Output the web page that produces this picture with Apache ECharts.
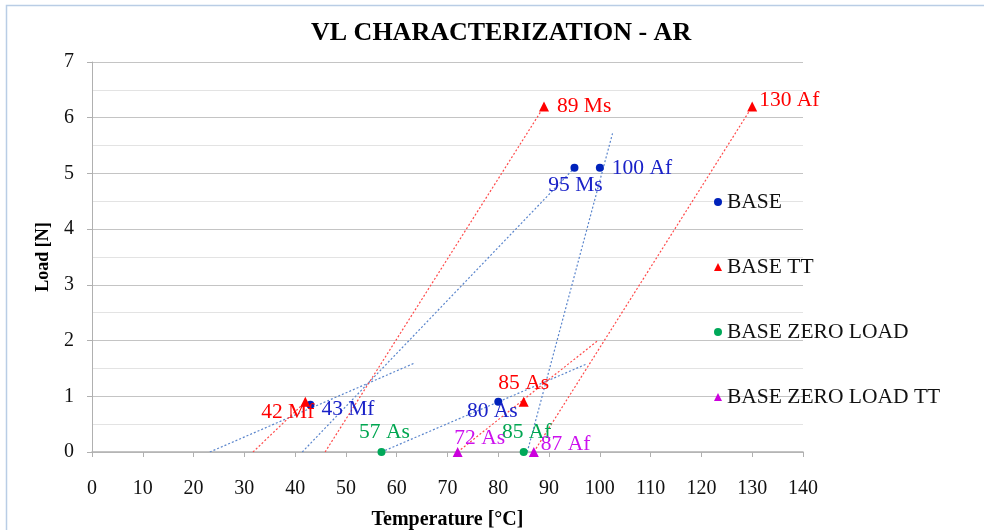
<!DOCTYPE html>
<html>
<head>
<meta charset="utf-8">
<script src="https://cdn.jsdelivr.net/npm/echarts@6/dist/echarts.min.js"></script>
<style>html,body{margin:0;padding:0;background:#fff;}#c{width:984px;height:530px;}</style>
</head>
<body>
<div id="c"></div>
<script>
// ---- data ----
const titleText = 'VL CHARACTERIZATION - AR';
const xName = 'Temperature [°C]';
const yName = 'Load [N]';
const seriesNames = ['BASE', 'BASE TT', 'BASE ZERO LOAD', 'BASE ZERO LOAD TT'];

const baseTemp = [43, 80, 95, 100];
const baseLoad = [0.85, 0.9, 5.1, 5.1];
const baseLabels = ['43 Mf', '80 As', '95 Ms', '100 Af'];

const ttTemp = [42, 85, 89, 130];
const ttLoad = [0.9, 0.9, 6.2, 6.2];
const ttLabels = ['42 Mf', '85 As', '89 Ms', '130 Af'];

const zlTemp = [57, 85];
const zlLoad = [0, 0];
const zlLabels = ['57 As', '85 Af'];

const zlttTemp = [72, 87];
const zlttLoad = [0, 0];
const zlttLabels = ['72 As', '87 Af'];

// dotted trend segments [[x0,y0],[x1,y1]]
const baseTrends = [
  [[23.2, 0], [63.6, 1.6]],
  [[41.4, 0], [95, 5.1]],
  [[57, 0], [97.4, 1.58]],
  [[85.7, 0], [102.5, 5.72]]
];
const ttTrends = [
  [[31.7, 0], [42, 0.9]],
  [[45.9, 0], [89, 6.2]],
  [[72, 0], [99.6, 2.0]],
  [[87, 0], [130, 6.2]]
];

// ---- styling (label placement per label) ----
const FONT = '"Liberation Serif", "Times New Roman", serif';
const LBL = 21.5;
const labelPlace = {
  '43 Mf': {position: 'right', distance: 7, offset: [0, 5]},
  '80 As': {position: 'inside', offset: [-6, 10]},
  '95 Ms': {position: 'bottom', distance: 3, offset: [1, 0]},
  '100 Af': {position: 'right', distance: 8, offset: [0, 1]},
  '42 Mf': {position: 'left', distance: 0, offset: [14, 11]},
  '85 As': {position: 'top', distance: 2, offset: [0, 0]},
  '89 Ms': {position: 'right', distance: 8, offset: [0, 0]},
  '130 Af': {position: 'right', distance: 2, offset: [0, -6]},
  '57 As': {position: 'top', distance: 5, offset: [3, 0]},
  '85 Af': {position: 'top', distance: 5, offset: [3, 0]},
  '72 As': {position: 'top', distance: 0, offset: [22, 2]},
  '87 Af': {position: 'right', distance: 2, offset: [0, -8]}
};

function pts(xs, ys, labels, color) {
  return xs.map((x, i) => ({
    value: [x, ys[i]],
    label: Object.assign({show: true, formatter: labels[i], color: color, opacity: 1,
      fontFamily: FONT, fontSize: LBL}, labelPlace[labels[i]])
  }));
}

const series = [];
function trendSeries(list, color) {
  list.forEach(seg => {
    series.push({
      type: 'line', data: seg, symbol: 'none', silent: true, z: 1,
      lineStyle: {type: [2, 2], width: 1.2, color: color}
    });
  });
}
trendSeries(baseTrends, '#5a85cc');
trendSeries(ttTrends, '#ff4a4a');

series.push({name: seriesNames[0], type: 'scatter', symbol: 'circle', symbolSize: 8, z: 3,
  itemStyle: {color: '#0022bb', opacity: 1}, data: pts(baseTemp, baseLoad, baseLabels, '#1a22c8')});
series.push({name: seriesNames[1], type: 'scatter', symbol: 'triangle', symbolSize: 10, z: 3,
  itemStyle: {color: '#ff0000', opacity: 1}, data: pts(ttTemp, ttLoad, ttLabels, '#ff0000')});
series.push({name: seriesNames[2], type: 'scatter', symbol: 'circle', symbolSize: 8, z: 3,
  itemStyle: {color: '#00a859', opacity: 1}, data: pts(zlTemp, zlLoad, zlLabels, '#00a651')});
series.push({name: seriesNames[3], type: 'scatter', symbol: 'triangle', symbolSize: 10, z: 3,
  itemStyle: {color: '#cc00dd', opacity: 1}, data: pts(zlttTemp, zlttLoad, zlttLabels, '#cc11ee')});

const chart = echarts.init(document.getElementById('c'), null, {renderer: 'canvas'});
chart.setOption({
  animation: false,
  backgroundColor: '#fff',
  title: {
    text: titleText, left: 306, top: 15,
    textStyle: {fontFamily: FONT, fontSize: 26, fontWeight: 'bold', color: '#000'}
  },
  graphic: [{
    type: 'rect', z: -10, silent: true,
    shape: {x: 6.5, y: 5.5, width: 1000, height: 600},
    style: {fill: 'none', stroke: '#b9cde5', lineWidth: 1.5}
  }],
  legend: {
    data: seriesNames, orient: 'vertical', left: 709, top: 186,
    itemWidth: 8, itemHeight: 8, itemGap: 43,
    textStyle: {fontFamily: FONT, fontSize: LBL, color: '#111', lineHeight: 21}
  },
  grid: {left: 92, right: 181, top: 62, bottom: 78, containLabel: false, outerBoundsMode: 'none'},
  xAxis: {
    type: 'value', min: 0, max: 140, interval: 10,
    name: xName, nameLocation: 'middle', nameGap: 58,
    nameTextStyle: {fontFamily: FONT, fontSize: 20, fontWeight: 'bold', color: '#000'},
    axisLine: {show: true, lineStyle: {color: '#b0b0b0', width: 1.5}},
    axisTick: {show: true, length: 5, lineStyle: {color: '#b0b0b0'}},
    axisLabel: {fontFamily: FONT, fontSize: 20, color: '#111', margin: 27},
    splitLine: {show: false}
  },
  yAxis: {
    type: 'value', min: 0, max: 7, interval: 1,
    name: yName, nameLocation: 'middle', nameGap: 40,
    nameTextStyle: {fontFamily: FONT, fontSize: 18, fontWeight: 'bold', color: '#000'},
    axisLine: {show: true, lineStyle: {color: '#b0b0b0', width: 1}},
    axisTick: {show: true, length: 5, lineStyle: {color: '#b0b0b0'}},
    axisLabel: {fontFamily: FONT, fontSize: 20, color: '#111', margin: 18},
    splitLine: {show: true, lineStyle: {color: '#c4c4c4', width: 1.2}},
    minorTick: {show: false, splitNumber: 2},
    minorSplitLine: {show: true, lineStyle: {color: '#e3e3e3', width: 1.2}}
  },
  series: series
});
</script>
</body>
</html>
